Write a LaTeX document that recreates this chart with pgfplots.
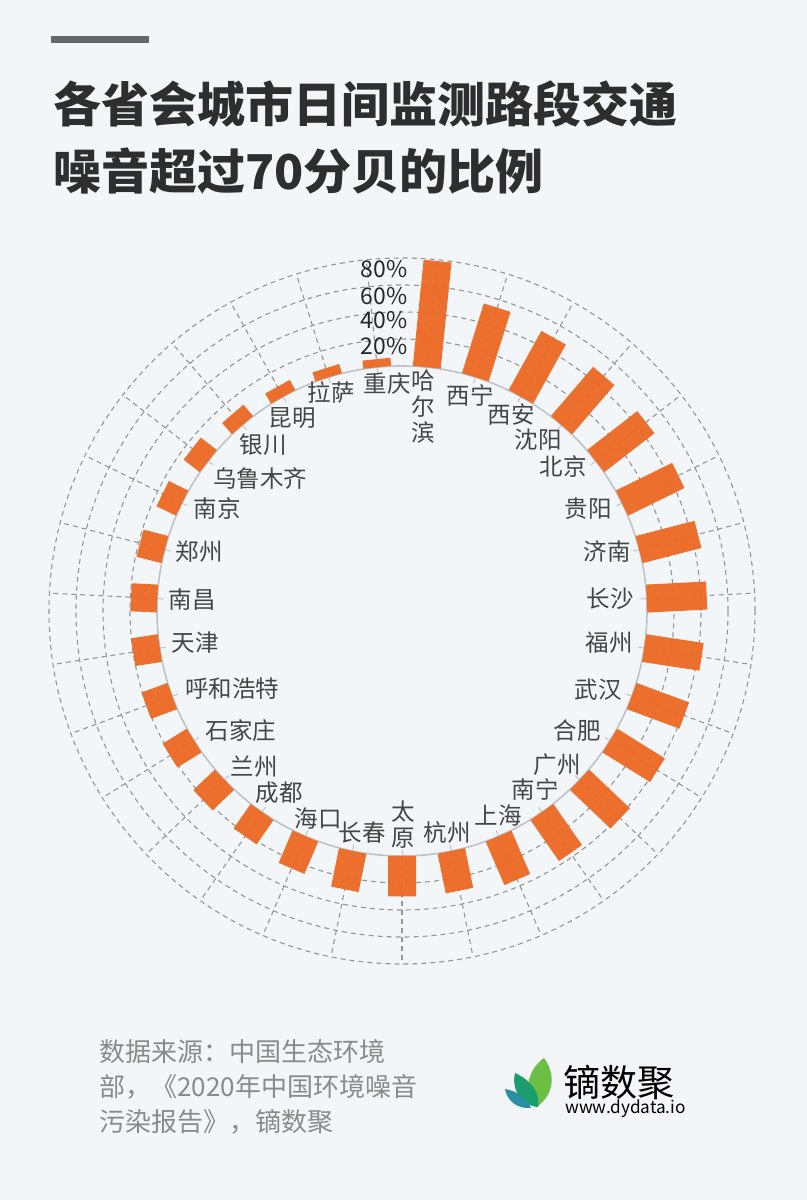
\documentclass[border=0pt]{standalone}
\usepackage{pgfplots}
\pgfplotsset{compat=1.18}
\usepackage{pgfplotstable}
\usepackage{fontspec}
\setmainfont{Noto Sans CJK SC}
\definecolor{bg}{HTML}{F3F6F9}
\definecolor{titlec}{HTML}{2E2E2E}
\definecolor{labc}{HTML}{454545}
\definecolor{srcc}{HTML}{8A8A8A}
\definecolor{barc}{HTML}{EC6A25}
\definecolor{gridc}{HTML}{959595}
\definecolor{innerc}{HTML}{BFC3C7}
\definecolor{topbar}{HTML}{666666}
\definecolor{leafa}{HTML}{6DBE45}
\definecolor{leafb}{HTML}{1A9E6E}
\definecolor{leafc}{HTML}{2A8FA3}

\pgfplotstableread{
i val
0 79
1 54
2 50
3 48
4 47
5 46.5
6 45
7 44.5
8 43
9 41.5
10 41.5
11 41.5
12 37
13 35
14 30
15 30
16 29
17 26
18 22
19 22
20 21
21 20.5
22 20
23 19.5
24 19
25 16
26 15
27 11
28 8.5
29 7
30 6
}\bardata

\begin{document}
\begin{tikzpicture}
\begin{scope}[x=0.5pt,y=-0.5pt,yshift=600pt]
  \fill[bg] (0,0) rectangle (807,1200);
  \fill[topbar] (51,36) rectangle (149,43);
  \node[anchor=west,inner sep=0,text=titlec,font=\fontsize{24}{30}\selectfont\bfseries] at (53,104) {各省会城市日间监测路段交通};
  \node[anchor=west,inner sep=0,text=titlec,font=\fontsize{24}{30}\selectfont\bfseries] at (53,171) {噪音超过70分贝的比例};
  % grid
  \foreach \r in {136,149.5,163,176.5}{
    \draw[gridc,line width=0.55pt,dash pattern=on 2.5pt off 2pt] (402,611) circle[radius=\r pt];
  }
  \foreach \i in {0,...,30}{
    \pgfmathsetmacro\a{90-(\i+0.5)*360/31}
    \draw[gridc,line width=0.55pt,dash pattern=on 2.5pt off 2pt] (402,611) ++(\a:122.5pt) -- ++(\a:54pt);
    \draw[innerc,line width=0.5pt] (402,611) ++(\a:122.5pt) -- ++(\a:-3pt);
  }
  \draw[innerc,line width=0.8pt] (402,611) circle[radius=122.5pt];
\end{scope}

\begin{axis}[at={(0pt,0pt)},anchor=south west,x=0.5pt,y=0.5pt,
  xmin=-402,xmax=405,ymin=-589,ymax=611,hide axis,clip=false]
\addplot[draw=barc,opacity=0.96,line width=14pt,-,
  quiver={u={1.35*\thisrow{val}*sin((\thisrow{i}+0.5)*360/31)},
          v={1.35*\thisrow{val}*cos((\thisrow{i}+0.5)*360/31)}}]
  table[x expr={245*sin((\thisrow{i}+0.5)*360/31)},
        y expr={245*cos((\thisrow{i}+0.5)*360/31)}] {\bardata};
\end{axis}

\begin{scope}[x=0.5pt,y=-0.5pt,yshift=600pt,
  lab/.style={text=labc,inner sep=0,font=\fontsize{11.75}{13}\selectfont},
  pct/.style={text=black!85,inner sep=0,anchor=east,font=\fontsize{11.5}{13}\selectfont}]
  \node[pct] at (408,269) {80\%};
  \node[pct] at (408,296) {60\%};
  \node[pct] at (408,320) {40\%};
  \node[pct] at (408,346) {20\%};
  \node[lab,align=center] at (423,407) {哈\\尔\\滨};
  \node[lab] at (470,395) {西宁};
  \node[lab] at (511,415) {西安};
  \node[lab] at (538,440) {沈阳};
  \node[lab] at (563,467) {北京};
  \node[lab] at (588,509) {贵阳};
  \node[lab] at (607,552) {济南};
  \node[lab] at (610,599) {长沙};
  \node[lab] at (609,643) {福州};
  \node[lab] at (598,690) {武汉};
  \node[lab] at (577,731) {合肥};
  \node[lab] at (557,765) {广州};
  \node[lab] at (535,790) {南宁};
  \node[lab] at (498,815) {上海};
  \node[lab] at (447,833) {杭州};
  \node[lab,align=center] at (403,825) {太\\原};
  \node[lab] at (362,833) {长春};
  \node[lab] at (318,818) {海口};
  \node[lab] at (279,793) {成都};
  \node[lab] at (254,767) {兰州};
  \node[lab] at (241,731) {石家庄};
  \node[lab] at (232,689) {呼和浩特};
  \node[lab] at (195,643) {天津};
  \node[lab] at (192,600) {南昌};
  \node[lab] at (199,552) {郑州};
  \node[lab] at (217,509) {南京};
  \node[lab] at (260,479) {乌鲁木齐};
  \node[lab] at (263,445) {银川};
  \node[lab] at (292,418) {昆明};
  \node[lab] at (331,393) {拉萨};
  \node[lab] at (387,384) {重庆};
  % source
  \node[anchor=north west,inner sep=0,text=srcc,align=left,font=\fontsize{13}{17.5}\selectfont] at (99,1039) {数据来源：中国生态环境\\部，《2020年中国环境噪音\\污染报告》，镝数聚};
  % logo
  \fill[leafa] (538,1106) .. controls (522,1090) and (528,1070) .. (544,1058) .. controls (556,1074) and (554,1094) .. cycle;
  \fill[leafb] (538,1107) .. controls (522,1106) and (511,1090) .. (515,1073) .. controls (530,1080) and (541,1092) .. cycle;
  \fill[leafc] (531,1108) .. controls (516,1109) and (507,1100) .. (505,1089) .. controls (518,1091) and (527,1099) .. cycle;
  \node[anchor=west,inner sep=0,font=\fontsize{18.5}{20}\selectfont] at (563,1082) {镝数聚};
  \node[anchor=west,inner sep=0,font=\fontsize{8.6}{10}\selectfont] at (565,1109) {www.dydata.io};
\end{scope}
\end{tikzpicture}
\end{document}
